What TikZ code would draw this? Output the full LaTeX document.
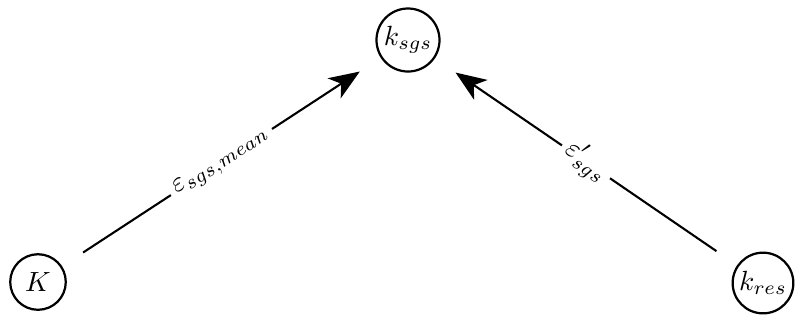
\documentclass[tikz,border=0pt]{standalone}
\usetikzlibrary{arrows.meta}
\begin{document}
\begin{tikzpicture}[x=0.36pt,y=-0.36pt,
  state/.style={draw,circle,line width=0.8pt,minimum size=20pt,inner sep=1pt},
  conn/.style={line width=0.75pt,-{Stealth[length=11pt,width=8.6pt,inset=3pt]},shorten <=9pt,shorten >=9pt},
  lbl/.style={sloped,fill=white,inner sep=2pt,midway}]
\useasboundingbox (0,0) rectangle (803,323);
\node[state] (K) at (38,282) {$K$};
\node[state] (ksgs) at (408,40) {$k_{sgs}$};
\node[state] (kres) at (763,283) {$k_{res}$};
\draw[conn] (K) -- node[lbl] {$\varepsilon_{sgs,mean}$} (ksgs);
\draw[conn] (kres) -- node[lbl] {$\varepsilon'_{sgs}$} (ksgs);
\end{tikzpicture}
\end{document}
